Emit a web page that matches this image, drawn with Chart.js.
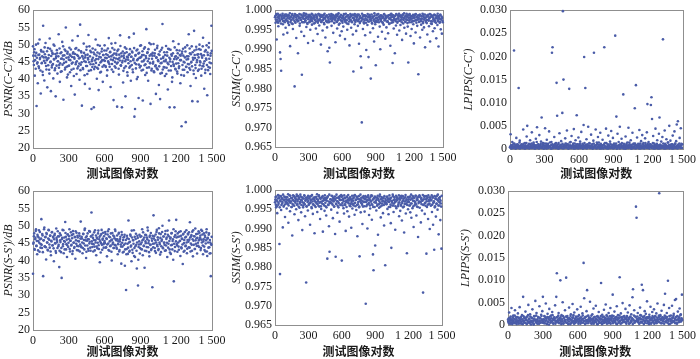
<!DOCTYPE html>
<html>
<head>
<meta charset="utf-8">
<script src="https://cdn.jsdelivr.net/npm/chart.js@4/dist/chart.umd.min.js"></script>
<style>
  html, body { margin: 0; padding: 0; background: #fff; }
  #wrap { position: relative; width: 700px; height: 359px; overflow: hidden; }
  #wrap canvas { position: absolute; left: 0; top: 0; }
</style>
</head>
<body>
<div id="wrap">
  <canvas id="c1" width="700" height="359"></canvas>
  <canvas id="c2" width="700" height="359"></canvas>
  <canvas id="c3" width="700" height="359"></canvas>
  <canvas id="c4" width="700" height="359"></canvas>
  <canvas id="c5" width="700" height="359"></canvas>
  <canvas id="c6" width="700" height="359"></canvas>
</div>
<script>
// x axis: test image pair number. first list of each metric sits on pairs 0,5,10..
// the second list on pairs 2.5,7.5,.. (the dense core of the band)
const xStep = 5;
const xTickLabels = ['0', '300', '600', '900', '1 200', '1 500'];
const psnrTickLabels = ['20', '25', '30', '35', '40', '45', '50', '55', '60'];
const ssimTickLabels = ['0.965', '0.970', '0.975', '0.980', '0.985', '0.990', '0.995', '1.000'];
const lpipsTickLabels = ['0', '0.005', '0.010', '0.015', '0.020', '0.025', '0.030'];

// PSNR(C-C') in dB x10
const psnrCC = [
  495,452,478,410,468,500,322,445,388,470,432,515,462,358,480,447,421,555,463,396,
  472,505,438,455,376,490,461,427,518,449,365,482,440,473,402,458,497,431,350,466,
  484,416,452,530,441,392,475,459,423,508,468,340,447,486,433,550,462,405,479,438,
  456,491,420,468,380,445,512,474,430,463,355,488,448,415,470,525,437,460,398,558,
  442,477,323,465,429,503,452,386,470,438,494,415,461,528,449,372,482,426,313,457,
  489,443,318,472,436,515,458,401,477,430,368,465,497,448,421,480,455,392,470,440,
  498,462,435,483,410,470,452,519,444,478,377,466,428,490,455,339,474,437,505,460,
  470,320,448,486,413,462,527,440,475,318,453,390,468,432,492,350,457,478,420,463,
  446,521,473,437,395,465,480,428,455,532,291,313,470,443,400,486,458,345,476,434,
  462,498,425,470,338,452,488,440,412,467,545,433,478,395,459,505,446,328,472,430,
  468,445,502,420,475,437,357,463,490,428,452,383,470,342,446,485,418,560,461,435,
  478,409,452,496,433,468,370,443,487,318,458,425,472,392,450,510,438,318,465,428,
  445,484,416,462,502,437,470,388,455,263,480,427,468,410,448,492,275,435,466,420,
  458,530,432,475,380,448,495,336,462,425,540,470,441,403,486,455,335,472,428,500,
  452,485,410,468,438,520,445,372,480,427,460,498,353,470,435,505,448,415,475,555
];
const psnrCC2 = [
  468,441,487,455,430,476,462,449,503,437,471,458,425,484,446,466,412,479,453,492,
  447,463,428,481,459,440,470,416,488,451,467,434,476,444,500,457,426,473,461,439,
  475,452,466,433,489,446,421,478,460,442,495,457,469,428,482,450,436,474,413,463,
  439,471,455,486,427,464,448,478,409,459,473,443,490,452,431,467,484,445,462,426,
  481,449,467,432,459,476,411,463,450,485,438,471,457,424,495,466,443,478,452,435,
  462,477,429,454,485,447,468,433,499,458,441,474,419,463,451,488,436,470,455,483,
  453,438,472,461,426,489,448,465,436,479,457,503,444,470,421,462,485,450,433,474,
  445,482,458,430,471,454,496,439,466,448,480,424,461,475,452,437,488,465,410,456,
  470,433,487,452,465,441,477,420,459,490,447,468,431,483,455,406,474,442,462,497,
  438,465,451,481,427,470,456,492,443,461,418,476,452,487,434,468,447,501,425,459,
  476,450,423,468,485,440,462,431,497,455,472,437,480,416,459,447,491,428,465,452,
  434,470,456,415,478,447,488,425,462,451,485,438,468,405,475,443,458,492,430,466,
  458,422,475,446,432,483,455,468,412,474,441,488,450,427,463,480,436,457,498,444,
  466,443,489,427,472,450,437,478,456,415,483,461,432,494,449,471,424,463,487,440,
  448,473,430,462,495,437,469,452,418,484,456,441,477,426,492,459,433,468,446,482
];

// PSNR(S-S') in dB x10
const psnrSS = [
  362,452,478,431,465,490,442,418,470,456,487,425,461,447,519,436,472,355,458,495,
  441,468,403,476,452,429,488,460,437,472,415,455,482,444,466,398,473,450,427,492,
  459,436,470,445,381,478,453,424,350,465,441,487,456,432,511,468,447,410,475,439,
  462,490,426,457,443,473,419,485,451,436,468,405,458,480,442,466,429,455,471,446,
  512,438,463,421,477,449,432,492,458,407,470,443,461,428,485,454,437,469,538,448,
  474,426,459,440,487,452,415,466,435,478,444,461,395,472,450,488,431,463,447,470,
  456,482,437,464,412,475,449,490,428,467,443,458,400,479,452,436,469,445,485,461,
  437,472,418,455,480,430,462,446,391,474,440,459,425,468,385,449,315,433,464,419,
  515,452,428,475,440,398,466,422,458,487,436,410,462,445,377,471,328,439,455,420,
  468,433,452,490,415,461,442,379,474,450,427,466,495,438,457,412,472,445,430,463,
  323,448,530,470,436,458,422,482,445,467,430,493,452,417,476,441,460,500,435,469,
  452,428,485,443,466,410,474,448,515,432,463,419,478,445,456,402,340,468,439,484,
  517,447,425,468,440,482,456,413,471,435,462,390,477,450,428,466,443,487,421,459,
  475,438,460,510,426,469,445,483,412,457,470,433,492,448,464,420,477,442,458,480,
  466,430,488,452,475,418,461,440,472,426,458,490,413,465,437,478,420,452,355,445
];
const psnrSS2 = [
  448,470,433,461,485,442,456,474,429,466,451,482,437,463,445,476,424,458,490,440,
  467,438,479,452,431,463,487,446,471,426,457,481,443,468,435,461,477,449,422,465,
  453,484,441,469,428,458,473,436,462,488,447,421,466,454,479,432,460,444,475,451,
  470,433,457,481,445,464,427,476,452,439,467,484,448,430,471,456,441,478,426,463,
  441,468,452,436,476,459,488,443,466,425,457,478,434,461,449,483,428,470,455,439,
  465,447,481,429,458,472,440,463,451,486,433,468,455,423,476,445,460,480,437,452,
  450,476,438,462,446,484,430,469,455,441,478,425,460,447,472,436,464,489,443,458,
  434,461,447,477,426,455,468,440,482,451,423,466,445,474,432,459,418,471,448,437,
  462,425,454,471,443,486,431,459,448,413,468,441,477,428,452,465,402,446,474,436,
  447,470,432,458,481,442,466,428,455,473,439,461,486,450,424,468,445,479,433,457,
  471,438,463,449,427,475,452,488,441,460,433,478,447,465,424,456,482,437,469,451,
  445,476,429,462,451,486,437,470,456,423,466,444,479,432,461,490,448,427,473,455,
  466,443,478,452,431,469,457,484,438,463,446,475,425,459,482,441,468,452,434,477,
  454,481,437,466,449,473,428,461,487,445,470,433,458,476,442,465,451,484,439,462,
  472,436,460,485,443,455,478,430,467,449,481,426,463,452,474,438,459,421,447,468
];

// SSIM(C-C') x10000
const ssimCC = [
  9982,9968,9988,9925,9976,9991,9959,9984,9972,9892,9875,9845,9979,9986,9964,9938,9981,9973,9989,9955,
  9977,9985,9942,9971,9987,9962,9980,9908,9983,9974,9966,9990,9952,9978,9984,9805,9970,9988,9929,9975,
  9986,9890,9973,9981,9960,9989,9976,9945,9835,9982,9969,9987,9934,9978,9972,9991,9957,9983,9965,9916,
  9980,9988,9971,9950,9984,9976,9963,9989,9922,9979,9985,9967,9974,9953,9987,9981,9939,9972,9990,9961,
  9977,9983,9912,9970,9986,9948,9975,9988,9964,9980,9930,9984,9973,9956,9895,9982,9969,9904,9866,9978,
  9985,9960,9974,9988,9942,9981,9967,9976,9918,9986,9971,9953,9989,9979,9963,9983,9935,9975,9987,9946,
  9972,9982,9958,9990,9977,9926,9969,9984,9974,9950,9987,9965,9980,9910,9976,9985,9955,9971,9988,9938,
  9843,9978,9964,9986,9973,9947,9981,9989,9960,9975,9914,9983,9970,9882,9853,9713,9979,9952,9987,9966,
  9974,9936,9985,9898,9976,9962,9982,9880,9971,9988,9943,9825,9978,9967,9984,9954,9973,9920,9986,9964,
  9859,9980,9970,9989,9932,9975,9983,9958,9900,9977,9986,9945,9969,9981,9963,9990,9974,9927,9979,9956,
  9984,9972,9941,9987,9965,9978,9909,9982,9968,9988,9865,9974,9953,9985,9890,9976,9961,9989,9937,9971,
  9980,9986,9948,9973,9962,9983,9977,9924,9988,9966,9979,9955,9984,9970,9940,9991,9975,9958,9866,9981,
  9969,9987,9934,9978,9952,9972,9985,9964,9915,9980,9989,9943,9974,9982,9960,9976,9836,9970,9986,9930,
  9977,9963,9984,9950,9971,9988,9956,9979,9905,9973,9982,9967,9938,9986,9975,9959,9981,9920,9989,9972,
  9965,9983,9946,9976,9987,9954,9970,9980,9928,9985,9962,9974,9907,9981,9968,9988,9951,9978,9940,9973
];
const ssimCC2 = [
  9985,9976,9990,9971,9982,9968,9987,9979,9974,9988,9966,9983,9977,9991,9972,9980,9986,9969,9984,9975,
  9989,9973,9981,9967,9986,9978,9992,9970,9983,9976,9988,9965,9980,9985,9973,9990,9968,9982,9977,9987,
  9971,9984,9979,9990,9966,9981,9975,9988,9970,9983,9978,9992,9969,9986,9974,9980,9989,9967,9984,9977,
  9983,9969,9987,9975,9980,9991,9972,9979,9985,9966,9982,9976,9989,9971,9984,9978,9968,9990,9974,9986,
  9976,9988,9970,9983,9974,9986,9980,9967,9991,9978,9984,9972,9987,9969,9981,9975,9989,9971,9985,9979,
  9990,9972,9982,9978,9987,9968,9984,9976,9981,9989,9970,9985,9974,9992,9979,9966,9983,9988,9973,9980,
  9968,9985,9977,9989,9973,9981,9991,9975,9966,9984,9987,9979,9971,9982,9990,9974,9986,9969,9980,9988,
  9981,9974,9990,9970,9984,9976,9983,9987,9972,9989,9978,9967,9985,9980,9973,9991,9977,9984,9969,9986,
  9987,9979,9968,9985,9975,9990,9971,9982,9986,9977,9983,9973,9989,9966,9981,9984,9976,9992,9970,9979,
  9973,9988,9981,9976,9990,9969,9984,9979,9987,9972,9985,9980,9967,9983,9989,9975,9978,9986,9982,9971,
  9984,9970,9986,9979,9966,9988,9977,9991,9974,9983,9969,9987,9980,9976,9985,9972,9990,9978,9968,9986,
  9978,9991,9973,9984,9987,9976,9969,9982,9989,9975,9992,9980,9971,9986,9977,9983,9967,9988,9981,9974,
  9990,9976,9983,9969,9985,9979,9988,9972,9981,9986,9974,9990,9968,9984,9977,9987,9981,9971,9989,9978,
  9972,9985,9978,9991,9967,9983,9976,9989,9980,9970,9986,9975,9984,9988,9973,9979,9990,9982,9966,9985,
  9986,9971,9981,9977,9989,9974,9987,9968,9983,9979,9991,9972,9985,9978,9970,9988,9976,9984,9980,9969
];

// SSIM(S-S') x10000
const ssimSS = [
  9968,9982,9955,9973,9940,9978,9962,9985,9860,9782,9971,9948,9980,9965,9903,9975,9959,9983,9930,9969,
  9976,9952,9981,9964,9915,9972,9986,9945,9967,9979,9956,9882,9974,9961,9984,9937,9970,9977,9950,9988,
  9963,9975,9922,9980,9954,9969,9983,9942,9973,9896,9978,9960,9966,9985,9932,9974,9760,9957,9981,9947,
  9972,9964,9979,9910,9968,9984,9953,9976,9938,9962,9980,9888,9971,9956,9982,9965,9943,9975,9959,9986,
  9967,9925,9977,9951,9970,9981,9892,9963,9974,9946,9979,9958,9934,9972,9822,9983,9961,9906,9840,9969,
  9976,9949,9965,9984,9927,9973,9957,9978,9886,9827,9964,9980,9941,9970,9955,9982,9918,9974,9962,9987,
  9817,9966,9975,9953,9939,9979,9961,9894,9972,9983,9945,9968,9977,9931,9959,9981,9964,9902,9973,9952,
  9978,9960,9985,9936,9967,9974,9948,9982,9880,9963,9976,9955,9828,9971,9942,9980,9965,9912,9957,9984,
  9969,9944,9977,9705,9958,9973,9900,9981,9964,9935,9975,9952,9970,9986,9923,9961,9833,9792,9978,9956,
  9856,9972,9947,9980,9962,9884,9974,9954,9983,9966,9929,9976,9960,9971,9940,9979,9908,9967,9805,9973,
  9963,9982,9951,9975,9937,9969,9978,9956,9914,9850,9972,9960,9984,9943,9965,9976,9897,9970,9953,9981,
  9974,9958,9967,9932,9979,9946,9962,9985,9921,9971,9955,9977,9890,9964,9981,9939,9973,9836,9968,9950,
  9976,9960,9983,9942,9965,9928,9978,9953,9972,9904,9980,9961,9969,9985,9934,9957,9975,9878,9966,9982,
  9954,9970,9916,9979,9947,9973,9734,9962,9984,9938,9967,9976,9835,9956,9981,9925,9971,9963,9899,9977,
  9959,9974,9943,9982,9910,9968,9845,9955,9978,9931,9964,9985,9949,9972,9885,9960,9976,9922,9965,9848
];
const ssimSS2 = [
  9975,9962,9983,9958,9970,9987,9966,9979,9955,9973,9984,9961,9977,9969,9988,9957,9974,9981,9963,9970,
  9982,9966,9973,9989,9960,9976,9968,9985,9971,9956,9979,9964,9986,9972,9959,9980,9967,9975,9983,9962,
  9970,9984,9957,9977,9965,9988,9974,9961,9981,9968,9955,9978,9986,9963,9972,9980,9958,9976,9969,9985,
  9961,9978,9983,9966,9974,9956,9987,9970,9963,9980,9975,9959,9982,9968,9977,9989,9964,9971,9984,9957,
  9979,9969,9958,9981,9965,9984,9972,9977,9960,9986,9967,9974,9955,9979,9983,9962,9970,9988,9966,9976,
  9967,9985,9973,9962,9979,9970,9957,9983,9975,9964,9988,9971,9959,9980,9966,9977,9984,9961,9974,9982,
  9984,9960,9977,9971,9986,9963,9979,9968,9956,9982,9974,9987,9965,9973,9980,9958,9976,9969,9985,9964,
  9972,9980,9965,9987,9958,9975,9983,9961,9978,9969,9984,9957,9976,9988,9967,9973,9962,9981,9970,9979,
  9958,9976,9984,9969,9981,9962,9973,9986,9966,9977,9960,9982,9971,9964,9985,9975,9956,9979,9968,9983,
  9981,9967,9974,9959,9985,9978,9963,9970,9988,9957,9976,9982,9965,9979,9972,9961,9984,9969,9977,9966,
  9964,9983,9970,9978,9956,9986,9975,9962,9980,9971,9967,9988,9960,9974,9981,9969,9958,9985,9973,9979,
  9977,9962,9986,9968,9975,9983,9959,9979,9966,9984,9973,9957,9980,9970,9987,9964,9976,9961,9982,9971,
  9969,9981,9960,9975,9988,9965,9978,9984,9958,9972,9980,9967,9985,9963,9974,9979,9956,9983,9970,9986,
  9983,9968,9977,9963,9972,9987,9961,9976,9982,9966,9959,9984,9971,9978,9962,9986,9974,9965,9981,9973,
  9974,9986,9962,9980,9967,9971,9984,9958,9977,9983,9965,9975,9988,9960,9979,9968,9982,9972,9957,9985
];

// LPIPS(C-C') x10000
const lpipsCC = [
  4,32,8,2,15,6,3,213,11,5,1,24,7,3,9,132,2,18,6,4,
  10,3,7,42,5,1,13,8,2,27,50,6,4,11,3,19,7,2,36,9,
  5,14,3,8,1,22,6,47,4,10,2,30,7,3,16,68,5,9,1,12,
  6,45,3,8,20,2,11,5,38,4,7,1,15,208,220,9,3,26,6,2,
  13,143,72,4,10,1,34,7,3,17,5,78,298,150,8,2,23,6,11,40,
  3,9,1,130,14,5,2,28,7,4,12,43,6,1,19,8,73,3,10,25,
  5,2,16,7,37,4,11,1,52,199,6,132,9,21,3,8,48,5,13,2,
  7,31,4,10,1,18,208,6,3,42,8,14,2,26,5,9,1,35,11,4,
  6,20,2,8,220,13,3,44,5,1,10,29,7,4,16,2,39,9,6,24,
  3,12,5,245,8,70,1,33,6,15,4,48,2,9,22,7,3,118,11,5,
  1,27,8,4,14,2,46,6,10,3,19,7,1,35,5,12,2,88,9,138,
  4,25,6,11,3,41,8,1,17,5,30,2,13,7,4,23,9,3,36,97,
  6,15,2,10,5,95,112,65,7,28,3,12,1,44,8,4,19,6,2,33,
  68,9,5,16,3,26,237,7,1,40,11,4,21,6,2,14,8,50,3,18,
  5,10,1,29,7,4,38,12,2,17,53,6,60,9,3,24,5,45,11,2
];
const lpipsCC2 = [
  3,7,1,5,9,2,12,4,6,1,8,3,10,5,2,7,14,1,6,4,
  9,2,5,11,3,7,1,6,13,4,2,8,5,1,10,3,6,12,2,7,
  4,10,1,6,3,8,15,2,5,9,1,7,4,11,2,6,3,13,8,1,
  7,3,12,1,5,9,2,6,4,14,3,8,1,10,5,2,7,4,11,6,
  2,8,5,1,13,4,7,3,9,2,6,11,1,5,8,3,12,4,7,2,
  10,1,6,3,8,15,2,5,4,9,1,7,12,3,6,2,10,5,1,8,
  4,11,2,7,3,6,1,9,5,13,2,8,4,1,10,6,3,7,12,2,
  6,3,9,1,5,12,4,8,2,7,1,11,3,6,14,2,5,9,1,7,
  3,8,1,10,4,6,2,13,5,3,9,1,7,4,11,2,6,8,3,1,
  9,2,7,4,12,1,5,3,8,6,1,10,2,5,13,4,7,1,9,3,
  5,1,11,3,6,8,2,14,4,7,1,9,5,3,10,2,6,12,1,8,
  2,7,4,9,1,5,12,3,6,2,10,4,8,1,5,13,3,7,2,11,
  8,3,1,6,10,4,2,7,13,1,5,9,3,6,2,11,4,1,8,5,
  1,9,5,2,7,3,12,6,4,10,1,8,2,5,14,3,7,1,9,4,
  6,2,10,4,1,8,3,11,5,2,7,1,9,4,12,6,2,8,3,10
];

// LPIPS(S-S') x10000
const lpipsSS = [
  12,5,28,9,16,3,38,11,7,21,14,4,33,8,18,2,10,26,6,15,
  40,9,13,3,22,11,63,7,17,5,30,12,2,19,8,45,14,4,24,10,
  6,16,35,9,1,20,13,54,7,27,11,3,18,8,42,15,5,23,10,31,
  63,12,4,19,9,48,14,2,25,7,17,36,11,5,21,8,29,13,3,16,
  10,44,6,63,116,18,9,27,4,14,100,7,22,12,51,3,16,9,33,11,
  106,5,20,13,8,39,15,2,24,10,6,47,17,9,28,4,13,19,7,35,
  12,3,22,8,15,41,10,5,26,14,139,60,9,18,4,31,78,11,21,7,
  16,52,9,13,3,24,11,37,6,18,8,43,14,2,20,10,29,5,15,12,
  94,7,23,11,4,34,16,9,46,13,3,19,8,27,12,5,38,15,10,21,
  68,14,6,30,9,17,3,42,12,22,7,15,107,10,26,4,18,49,11,8,
  20,13,36,5,16,9,28,12,3,44,18,7,24,14,62,80,10,33,6,19,
  265,240,11,27,8,15,4,39,13,21,90,7,78,17,10,31,5,25,14,53,
  9,18,6,23,12,41,3,16,29,10,7,35,14,20,5,26,11,48,8,17,
  295,13,22,4,32,10,17,8,45,15,70,19,6,27,12,99,9,38,14,3,
  21,11,43,7,17,25,9,56,13,58,5,20,30,10,15,37,8,24,12,68
];
const lpipsSS2 = [
  8,15,3,11,19,6,13,2,17,9,5,21,12,4,14,7,18,10,3,16,
  11,4,18,7,13,2,20,9,15,5,12,17,3,10,22,6,14,8,19,1,
  16,9,5,14,2,19,11,7,21,4,13,8,17,3,10,15,6,20,12,5,
  7,13,20,4,16,10,3,18,8,14,1,12,19,6,15,9,22,4,11,17,
  14,3,9,17,6,12,21,5,15,10,18,2,13,8,20,4,16,11,7,19,
  5,18,12,2,15,8,13,20,4,11,16,7,22,3,14,9,6,17,10,13,
  19,7,14,10,3,17,6,12,21,5,9,15,2,18,11,8,20,4,13,16,
  10,16,4,21,12,7,15,3,18,9,13,6,19,11,2,17,8,14,5,20,
  13,2,17,8,19,5,11,16,6,22,10,14,4,15,9,20,3,12,18,7,
  4,20,10,15,7,13,18,2,12,16,5,21,9,3,17,11,14,6,19,8,
  17,6,13,3,20,11,8,16,14,4,19,10,7,15,2,12,21,5,9,18,
  9,14,19,6,11,3,16,22,7,13,5,18,12,2,20,8,15,10,17,4,
  15,8,2,18,13,10,5,14,20,6,17,3,11,19,9,4,16,12,7,21,
  6,19,11,14,4,17,9,13,3,21,8,15,10,18,5,12,2,20,14,9,
  12,5,16,9,21,7,14,4,18,11,3,19,13,6,17,10,22,8,15,11
];

const dotColor = '#4a5ca8';
const serif = "'Liberation Serif', 'Times New Roman', serif";

// frame around each plot area, drawn under the points
const framePlugin = {
  id: 'frame',
  beforeDatasetsDraw(chart) {
    const { ctx, chartArea: a } = chart;
    ctx.save();
    ctx.strokeStyle = '#8f8f8f';
    ctx.lineWidth = 1;
    ctx.strokeRect(Math.round(a.left) + 0.5, Math.round(a.top) + 0.5,
      Math.round(a.right - a.left), Math.round(a.bottom - a.top));
    ctx.restore();
  }
};

// panel layout: plot area [left, top, right, bottom], y title centre x, x title centre y
const panels = [
  { id: 'c1', vals: psnrCC, vals2: psnrCC2, scale: 10, min: 20, max: 60, step: 5, ticks: psnrTickLabels, title: 'PSNR(C-C′)/dB', area: [33, 7, 212, 148], yTitleX: 9, xTitleY: 173 },
  { id: 'c2', vals: ssimCC, vals2: ssimCC2, scale: 10000, min: 0.965, max: 1.0, step: 0.005, ticks: ssimTickLabels, title: 'SSIM(C-C′)', area: [275, 7, 443, 147], yTitleX: 237, xTitleY: 173 },
  { id: 'c3', vals: lpipsCC, vals2: lpipsCC2, scale: 10000, min: 0, max: 0.03, step: 0.005, ticks: lpipsTickLabels, title: 'LPIPS(C-C′)', area: [510, 7, 687, 149], yTitleX: 469, xTitleY: 173 },
  { id: 'c4', vals: psnrSS, vals2: psnrSS2, scale: 10, min: 20, max: 60, step: 5, ticks: psnrTickLabels, title: 'PSNR(S-S′)/dB', area: [33, 191, 212, 330], yTitleX: 9, xTitleY: 351 },
  { id: 'c5', vals: ssimSS, vals2: ssimSS2, scale: 10000, min: 0.965, max: 1.0, step: 0.005, ticks: ssimTickLabels, title: 'SSIM(S-S′)', area: [275, 190, 442, 325], yTitleX: 237, xTitleY: 351 },
  { id: 'c6', vals: lpipsSS, vals2: lpipsSS2, scale: 10000, min: 0, max: 0.03, step: 0.005, ticks: lpipsTickLabels, title: 'LPIPS(S-S′)', area: [508, 191, 685, 325], yTitleX: 466, xTitleY: 351 }
];

const W = 700, H = 359;
const tickFont = { family: serif, size: 12 };
const yTitleFont = { family: serif, size: 12, style: 'italic' };
const xTitleFont = { family: "'Noto Sans CJK SC', sans-serif", size: 12, weight: 'bold' };

const dotSet = points => ({
  data: points,
  backgroundColor: dotColor,
  borderWidth: 0,
  pointRadius: 1.3,
  pointHoverRadius: 1.3,
  clip: 4
});

panels.forEach(p => {
  const [L, T, R, B] = p.area;
  const padLeft = p.yTitleX - yTitleFont.size * 1.2 / 2;
  const scaleBottom = p.xTitleY + xTitleFont.size * 1.2 / 2;
  const points = p.vals.map((v, i) => ({ x: i * xStep, y: v / p.scale }));
  const points2 = p.vals2.map((v, i) => ({ x: i * xStep + xStep / 2, y: v / p.scale }));

  new Chart(document.getElementById(p.id), {
    type: 'scatter',
    data: { datasets: [dotSet(points), dotSet(points2)] },
    options: {
      responsive: false,
      animation: false,
      events: [],
      layout: { padding: { left: padLeft, top: T, right: W - R, bottom: H - scaleBottom } },
      plugins: { legend: { display: false }, tooltip: { enabled: false } },
      scales: {
        x: {
          type: 'linear', min: 0, max: 1500,
          grid: { display: false, drawTicks: false },
          border: { display: false },
          ticks: {
            stepSize: 300, padding: 4, color: '#1a1a1a', font: tickFont,
            maxRotation: 0, autoSkip: false,
            callback: (v, i) => xTickLabels[i]
          },
          title: { display: true, text: '测试图像对数', color: '#1a1a1a', font: xTitleFont, padding: 0 },
          afterFit: s => { s.height = scaleBottom - B; }
        },
        y: {
          min: p.min, max: p.max,
          grid: { display: false, drawTicks: false },
          border: { display: false },
          ticks: {
            stepSize: p.step, padding: 3, color: '#1a1a1a', font: tickFont,
            autoSkip: false,
            callback: (v, i) => p.ticks[i]
          },
          title: { display: true, text: p.title, color: '#1a1a1a', font: yTitleFont, padding: 0 },
          afterFit: s => { s.width = L - padLeft; }
        }
      }
    },
    plugins: [framePlugin]
  });
});
</script>
</body>
</html>
